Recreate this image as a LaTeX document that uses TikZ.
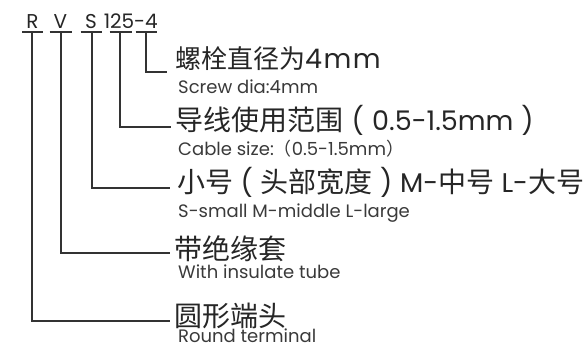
\documentclass[tikz,border=0pt]{standalone}
\usepackage{fontspec}
\setmainfont{Poppins}
\newfontfamily\cjk{Noto Sans CJK SC}
\newcommand\CJ[1]{{\cjk\fontsize{28}{28}\selectfont #1}}
\newcommand\CJs[1]{{\cjk\fontsize{26}{26}\selectfont #1}}
\definecolor{ink}{HTML}{262626}
\definecolor{subink}{HTML}{3A3A3A}
\definecolor{lineink}{HTML}{333333}
\begin{document}
\begin{tikzpicture}[x=1pt,y=-1pt]
\useasboundingbox[fill=white] (0,0) rectangle (585,346);
\tikzset{
  code/.style={font=\fontsize{20}{20}\selectfont, text=ink, anchor=base, inner sep=0},
  main/.style={font=\fontsize{27}{27}\selectfont, anchor=base west, inner sep=0, text=ink},
  sub/.style={font=\fontsize{18}{18}\selectfont, anchor=base west, inner sep=0, text=subink},
  bar/.style={draw=lineink, line width=1.3pt},
  lead/.style={draw=lineink, line width=1.3pt}
}
% code letters
\node[code] (cR) at (32.5,28) {R};
\node[code] (cV) at (60.5,28) {V};
\node[code] (cS) at (91,28) {S};
\node[code] (cN) at (119,28) {125};
\node[code] (cD) at (146,28) {-4};
% underline bars
\coordinate (uR) at (32,32);
\coordinate (uV) at (61,32);
\coordinate (uS) at (92,32);
\coordinate (uN) at (120,32);
\coordinate (uD) at (146,32);
\draw[bar] (22,32) -- (43,32);
\draw[bar] (49.5,32) -- (72,32);
\draw[bar] (80.5,32) -- (102,32);
\draw[bar] (109.5,32) -- (132,32);
\draw[bar] (135.5,32) -- (157,32);
% ends of leaders
\coordinate (eD) at (167,72);
\coordinate (eN) at (171,127);
\coordinate (eS) at (170,188);
\coordinate (eV) at (170,253);
\coordinate (eR) at (170,321);
\draw[lead] (uD) |- (eD);
\draw[lead] (uN) |- (eN);
\draw[lead] (uS) |- (eS);
\draw[lead] (uV) |- (eV);
\draw[lead] (uR) |- (eR);
% texts
\node[main] (m1) at (175,68) {\CJs{螺栓直径为}4\kern1.5pt m\kern1.5pt m};
\node[sub] (s1) at (178,93) {Screw dia:4mm};
\node[main] (m2) at (175,130) {\CJ{导线使用范围}\makebox[29pt]{(}0.5-1.5mm\makebox[28pt]{)}};
\node[sub] (s2) at (178,155) {Cable size:{\cjk （}0.5-1.5mm{\cjk ）}};
\node[main] (m3) at (177,192) {\CJ{小号}\makebox[27pt]{(}\CJ{头部宽度}\makebox[28pt]{)}M-\CJ{中号} L-\CJ{大号}};
\node[sub] (s3) at (178,217) {S-small M-middle L-large};
\node[main] (m4) at (174,259) {\CJ{带绝缘套}};
\node[sub] (s4) at (178,278) {With insulate tube};
\node[main] (m5) at (174,326.5) {\CJ{圆形端头}};
\node[sub, text depth=0pt] (s5) at (178,342) {Round terminal};
\end{tikzpicture}
\end{document}
